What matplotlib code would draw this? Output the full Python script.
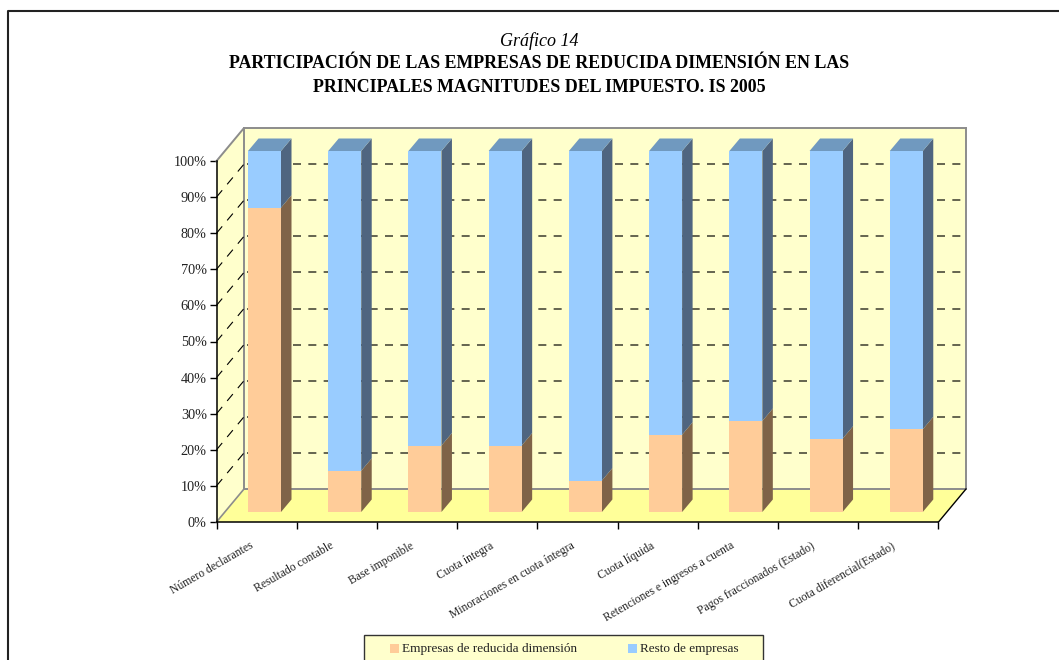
import matplotlib
matplotlib.use('Agg')
import matplotlib.pyplot as plt
from matplotlib.patches import Rectangle, Polygon

plt.rcParams['font.family'] = ['Liberation Serif', 'DejaVu Serif']

# Shares of each tax magnitude, in percent
categories = ['Número declarantes', 'Resultado contable', 'Base imponible', 'Cuota íntegra',
              'Minoraciones en cuota íntegra', 'Cuota líquida', 'Retenciones e ingresos a cuenta',
              'Pagos fraccionados (Estado)', 'Cuota diferencial(Estado)']
small_firms = [84.3, 11.4, 18.4, 18.4, 8.7, 21.4, 25.2, 20.3, 22.9]
other_firms = [15.7, 88.6, 81.6, 81.6, 91.3, 78.6, 74.8, 79.7, 77.1]
series_names = ['Empresas de reducida dimensión', 'Resto de empresas']
y_ticks = [0, 10, 20, 30, 40, 50, 60, 70, 80, 90, 100]

W, H = 1059, 660
X0, X1 = 216.5, 938.5   # front edge of the floor, pixels
Y0, Y100 = 522, 161
n = len(categories)
px_x = (X1 - X0) / n    # pixels per category
px_y = (Y0 - Y100) / 100

# depth of the box and of the bars, in data units
box_dx, box_dy = 27.5 / px_x, 33 / px_y
bar_off_y = 10 / px_y
bar_dx, bar_dy = 10.5 / px_x, 12.5 / px_y
bar_w = 33 / px_x

wall = '#ffffcc'
floor = '#ffff99'
edge = '#8c8c8c'
peach, peach_side = '#ffcc99', '#7f6348'
blue, blue_side, blue_top = '#99ccff', '#4f6580', '#7099bf'
ink = '#222222'

fig = plt.figure(figsize=(W / 100, H / 100), dpi=100)
ax = fig.add_axes([X0 / W, 1 - Y0 / H, (X1 - X0) / W, (Y0 - Y100) / H])
ax.set_xlim(0, n)
ax.set_ylim(0, 100)
ax.patch.set_visible(False)


def poly(points, color, z):
    ax.add_patch(Polygon(points, closed=True, facecolor=color, edgecolor='none', zorder=z, clip_on=False))


# back wall, side wall and floor
poly([(box_dx, box_dy), (n + box_dx, box_dy), (n + box_dx, 100 + box_dy), (box_dx, 100 + box_dy)], wall, 1)
poly([(0, 0), (box_dx, box_dy), (box_dx, 100 + box_dy), (0, 100)], wall, 1)
poly([(0, 0), (n, 0), (n + box_dx, box_dy), (box_dx, box_dy)], floor, 1)

# box outline
ax.plot([0, box_dx, box_dx, n + box_dx, n + box_dx], [100, 100 + box_dy, box_dy, box_dy, 100 + box_dy],
        color=edge, lw=1.4, zorder=2, clip_on=False)
ax.plot([box_dx, n + box_dx], [100 + box_dy, 100 + box_dy], color=edge, lw=1.4, zorder=2, clip_on=False)
ax.plot([0, box_dx], [0, box_dy], color=edge, lw=1.2, zorder=2, clip_on=False)
ax.plot([n, n + box_dx], [0, box_dy], color='black', lw=1, zorder=2, clip_on=False)

# dashed gridlines on both walls
for v in y_ticks[1:-1]:
    ax.plot([box_dx + 0.035, n + box_dx - 0.03], [v + box_dy, v + box_dy], color='#4a4a3a', lw=1.2,
            dashes=(4.8, 4.4), zorder=2, clip_on=False)
    ax.plot([0, box_dx], [v, v + box_dy], color='black', lw=0.8, dashes=(8, 7), zorder=2, clip_on=False)

# stacked bars, front face plus side and top
for i in range(n):
    left = i + 31.5 / px_x
    right = left + bar_w
    base = bar_off_y
    mid = base + small_firms[i]
    top = mid + other_firms[i]
    poly([(right, base), (right + bar_dx, base + bar_dy), (right + bar_dx, mid + bar_dy), (right, mid)], peach_side, 3)
    poly([(right, mid), (right + bar_dx, mid + bar_dy), (right + bar_dx, top + bar_dy), (right, top)], blue_side, 3)
    poly([(left, top), (right, top), (right + bar_dx, top + bar_dy), (left + bar_dx, top + bar_dy)], blue_top, 3)
    ax.add_patch(Rectangle((left, base), bar_w, small_firms[i], facecolor=peach, edgecolor='none', zorder=4, clip_on=False))
    ax.add_patch(Rectangle((left, mid), bar_w, other_firms[i], facecolor=blue, edgecolor='none', zorder=4, clip_on=False))

# axes
for s in ['top', 'right']:
    ax.spines[s].set_visible(False)
for s in ['left', 'bottom']:
    ax.spines[s].set_linewidth(1.1)
    ax.spines[s].set_zorder(5)
ax.set_yticks(y_ticks)
ax.set_yticklabels([f'{v}%' for v in y_ticks], fontsize=10.3, color=ink)
ax.set_xticks(range(n + 1))
ax.set_xticklabels([])
ax.tick_params(axis='both', length=5, width=1, pad=2)

# rotated category labels end just under each slot centre
for i, name in enumerate(categories):
    ax.annotate(name, xy=(i + 0.5, 0), xytext=(-4, -23), textcoords='offset pixels', rotation=30,
                rotation_mode='anchor', ha='right', va='center', fontsize=8.4, color=ink,
                annotation_clip=False)

# page frame
fig.add_artist(plt.Line2D([8 / W, 8 / W, 1], [0, 1 - 11 / H, 1 - 11 / H], color=ink, lw=1.5))

# headings
cx = 539 / W
fig.text(cx, 1 - 41 / H, 'Gráfico 14', style='italic', fontsize=13, ha='center', va='center')
fig.text(cx, 1 - 63.5 / H, 'PARTICIPACIÓN DE LAS EMPRESAS DE REDUCIDA DIMENSIÓN EN LAS',
         weight='bold', fontsize=12.85, ha='center', va='center')
fig.text(cx, 1 - 87.5 / H, 'PRINCIPALES MAGNITUDES DEL IMPUESTO. IS 2005',
         weight='bold', fontsize=12.85, ha='center', va='center')

# legend box runs past the lower edge of the page
fig.add_artist(Rectangle((364 / W, -20 / H), 399 / W, (660 - 635 + 20) / H, transform=fig.transFigure,
                         facecolor=wall, edgecolor='#333333', lw=1))
for sx, tx, color, name in [(390, 402, peach, series_names[0]), (628, 640, blue, series_names[1])]:
    fig.add_artist(Rectangle((sx / W, 1 - 653 / H), 9 / W, 9 / H, transform=fig.transFigure,
                             facecolor=color, edgecolor='none'))
    fig.text(tx / W, 1 - 649 / H, name, fontsize=9.55, ha='left', va='center', color=ink)

fig.savefig('out.png', dpi=100)
